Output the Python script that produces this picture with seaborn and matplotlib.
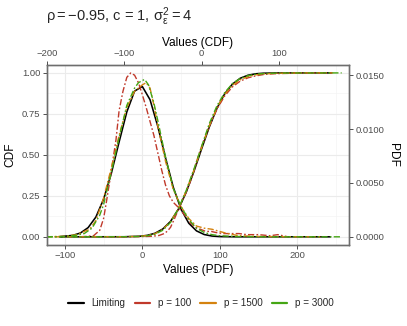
import numpy as np
import pandas as pd
import matplotlib
matplotlib.use("Agg")
import matplotlib.pyplot as plt
import seaborn as sns
from matplotlib.lines import Line2D
from matplotlib.ticker import MultipleLocator, FixedLocator

# ---------------- data ----------------
series_names = ["Limiting", "p = 100", "p = 1500", "p = 3000"]
series_colors = ["#000000", "#C0392B", "#D4820F", "#45A614"]

# PDF curves (x on bottom axis "Values (PDF)", y on right axis "PDF")
pdf_x_limiting = [-106, -90, -80, -70, -60, -50, -40, -30, -20, -10, 0, 10, 20, 30,
                  40, 50, 60, 70, 80, 90, 100, 120, 150, 200, 243]
pdf_y_limiting = [0.00002, 0.00013, 0.00035, 0.00085, 0.00183, 0.00349, 0.00589,
                  0.00879, 0.01159, 0.01352, 0.01395, 0.01272, 0.01025, 0.00731,
                  0.00460, 0.00257, 0.00126, 0.00055, 0.00021, 0.00007, 0.00002,
                  0.0, 0.0, 0.0, 0.0]

pdf_x_p100 = [-80, -70, -63, -55, -50, -46, -42, -38, -34, -30, -25, -20, -15, -10,
              -5, 0, 5, 10, 15, 20, 25, 30, 35, 40, 47, 55, 62, 68, 75, 82, 89, 95,
              105, 115, 125, 135, 150, 165, 175, 188]
pdf_y_p100 = [0.0, 0.00005, 0.0001, 0.0006, 0.0017, 0.0034, 0.0052, 0.0071, 0.0090,
              0.0117, 0.0135, 0.0148, 0.0152, 0.0150, 0.0143, 0.0132, 0.0120, 0.0107,
              0.0094, 0.0078, 0.0062, 0.0048, 0.0038, 0.0032, 0.0027, 0.0020, 0.0013,
              0.0009, 0.0007, 0.0005, 0.0005, 0.0004, 0.0003, 0.0003, 0.0003, 0.0002,
              0.0002, 0.0001, 0.0002, 0.0]

pdf_x_p1500 = [-124, -100, -85, -75, -68, -60, -50, -40, -30, -20, -10, -5, 0, 5, 10,
               15, 20, 30, 40, 50, 60, 70, 80, 90, 100, 110, 125, 150, 200, 230]
pdf_y_p1500 = [0.0, 0.00005, 0.0002, 0.0005, 0.0007, 0.0015, 0.0036, 0.0064, 0.0094,
               0.0120, 0.0135, 0.0138, 0.0141, 0.0143, 0.0138, 0.0122, 0.0103, 0.0070,
               0.0044, 0.0028, 0.0017, 0.0010, 0.0008, 0.0007, 0.0005, 0.0003, 0.0001,
               0.00003, 0.0, 0.0]

pdf_x_p3000 = [-124, -100, -85, -75, -65, -55, -50, -40, -30, -20, -10, -5, 0, 3, 8,
               15, 20, 30, 40, 50, 60, 70, 80, 90, 100, 120, 160, 258]
pdf_y_p3000 = [0.0, 0.00003, 0.00015, 0.0003, 0.0008, 0.0020, 0.0030, 0.0060, 0.0092,
               0.0122, 0.0138, 0.0143, 0.0145, 0.0146, 0.0141, 0.0124, 0.0108, 0.0074,
               0.0045, 0.0028, 0.0016, 0.0008, 0.0004, 0.0002, 0.0001, 0.00003, 0.0, 0.0]

# CDF curves (x on top axis "Values (CDF)", y on left axis "CDF")
cdf_x_limiting = [-183, -100, -80, -70, -60, -50, -40, -30, -20, -10, 0, 10, 20, 30,
                  40, 50, 60, 70, 80, 100, 168]
cdf_y_limiting = [0.0, 0.0003, 0.0033, 0.0089, 0.0218, 0.0478, 0.0941, 0.1673, 0.2696,
                  0.3963, 0.535, 0.6695, 0.785, 0.8729, 0.932, 0.9673, 0.9858, 0.9945,
                  0.9981, 0.9998, 1.0]

cdf_x_p100 = [-120, -80, -65, -55, -48, -44, -40, -35, -30, -25, -20, -15, -10, -5, 0,
              10, 20, 30, 40, 50, 60, 70, 80, 90, 100, 120, 140, 160]
cdf_y_p100 = [0.0, 0.001, 0.003, 0.008, 0.02, 0.035, 0.058, 0.11, 0.165, 0.22, 0.27,
              0.33, 0.40, 0.48, 0.55, 0.675, 0.78, 0.86, 0.915, 0.95, 0.97, 0.982,
              0.99, 0.994, 0.996, 0.998, 0.999, 1.0]

cdf_x_p1500 = [-190, -100, -80, -70, -60, -50, -40, -30, -20, -10, 0, 10, 20, 30, 40,
               50, 60, 70, 80, 100, 130, 170]
cdf_y_p1500 = [0.0, 0.0005, 0.003, 0.008, 0.019, 0.045, 0.092, 0.172, 0.278, 0.405,
               0.542, 0.677, 0.790, 0.870, 0.925, 0.958, 0.977, 0.988, 0.994, 0.998,
               1.0, 1.0]

cdf_x_p3000 = [-200, -100, -80, -70, -60, -50, -40, -30, -20, -10, 0, 10, 20, 30, 40,
               50, 60, 70, 80, 100, 181]
cdf_y_p3000 = [0.0, 0.0003, 0.002, 0.006, 0.016, 0.040, 0.088, 0.170, 0.280, 0.410,
               0.550, 0.690, 0.800, 0.880, 0.935, 0.966, 0.983, 0.992, 0.996, 0.999, 1.0]

pdf_x_ticks = [-100, 0, 100, 200]
cdf_x_ticks = [-200, -100, 0, 100]
cdf_y_ticks = [0.0, 0.25, 0.5, 0.75, 1.0]
pdf_y_ticks = [0.0, 0.005, 0.010, 0.015]

title_text = r"$\rho = -0.95$, c = 1, $\sigma^{2}_{\varepsilon} = 4$"

# ---------------- tables ----------------
pdf_frames = []
for name, xs, ys in zip(series_names,
                        [pdf_x_limiting, pdf_x_p100, pdf_x_p1500, pdf_x_p3000],
                        [pdf_y_limiting, pdf_y_p100, pdf_y_p1500, pdf_y_p3000]):
    pdf_frames.append(pd.DataFrame({"x": xs, "y": ys, "series": name}))
pdf_df = pd.concat(pdf_frames, ignore_index=True)

cdf_frames = []
for name, xs, ys in zip(series_names,
                        [cdf_x_limiting, cdf_x_p100, cdf_x_p1500, cdf_x_p3000],
                        [cdf_y_limiting, cdf_y_p100, cdf_y_p1500, cdf_y_p3000]):
    cdf_frames.append(pd.DataFrame({"x": xs, "y": ys, "series": name}))
cdf_df = pd.concat(cdf_frames, ignore_index=True)

# ---------------- style ----------------
sns.set_theme(style="white")
plt.rcParams["font.family"] = ["Liberation Sans", "DejaVu Sans"]
plt.rcParams["mathtext.fontset"] = "custom"
plt.rcParams["mathtext.rm"] = "Liberation Sans"
plt.rcParams["mathtext.it"] = "Liberation Sans"
plt.rcParams["mathtext.bf"] = "Liberation Sans:bold"

palette = dict(zip(series_names, series_colors))
dashdot = (4.5, 1.6, 1.2, 1.6)
dashes = {"Limiting": "", "p = 100": dashdot, "p = 1500": dashdot, "p = 3000": dashdot}
sizes = {"Limiting": 1.15, "p = 100": 1.0, "p = 1500": 1.0, "p = 3000": 1.0}

fig = plt.figure(figsize=(4.07, 3.26), dpi=100)
L, R, T, B = 46.7 / 407, 349 / 407, 64.7 / 326, 245 / 326
ax = fig.add_axes([L, 1 - B, R - L, B - T])
ax.set_facecolor("white")

ax_r = ax.twinx()   # PDF values
ax_t = ax.twiny()   # CDF x-values

ax.set_xlim(-123.5, 267)
ax.set_ylim(-0.05, 1.05)
ax_t.set_xlim(-200, 190.5)
ax_r.set_ylim(-0.05 * 0.01521, 1.05 * 0.01521)

# grid on base axes
ax.xaxis.set_major_locator(FixedLocator(pdf_x_ticks))
ax.xaxis.set_minor_locator(MultipleLocator(50))
ax.yaxis.set_major_locator(FixedLocator(cdf_y_ticks))
ax.yaxis.set_minor_locator(MultipleLocator(0.125))
ax.grid(True, which="major", color="#EBEBEB", linewidth=0.8)
ax.grid(True, which="minor", color="#F3F3F3", linewidth=0.45)
ax.set_axisbelow(True)
ax_r.grid(False)
ax_t.grid(False)

sns.lineplot(data=pdf_df, x="x", y="y", hue="series", style="series", size="series",
             hue_order=series_names, style_order=series_names, size_order=series_names,
             palette=palette, dashes=dashes, sizes=sizes, estimator=None,
             legend=False, ax=ax_r)
sns.lineplot(data=cdf_df, x="x", y="y", hue="series", style="series", size="series",
             hue_order=series_names, style_order=series_names, size_order=series_names,
             palette=palette, dashes=dashes, sizes=sizes, estimator=None,
             legend=False, ax=ax_t)

ax_t.set_ylim(-0.05, 1.05)
ax_r.set_xlim(-123.5, 267)
ax_t.set_xlim(-200, 190.5)

# ticks
tick_col = "#4D4D4D"
for a in (ax, ax_r, ax_t):
    a.tick_params(axis="both", which="major", length=3, width=0.6, color="#333333",
                  labelsize=6.8, labelcolor=tick_col, pad=1.5, direction="out")
    a.tick_params(axis="both", which="minor", length=0)
    for s in a.spines.values():
        s.set_color("#6E6E6E")
        s.set_linewidth(0.9)

ax.set_xticks(pdf_x_ticks)
ax.set_xticklabels(["\u2212100", "0", "100", "200"])
ax.set_yticks(cdf_y_ticks)
ax.set_yticklabels(["0.00", "0.25", "0.50", "0.75", "1.00"])
ax_t.set_xticks(cdf_x_ticks)
ax_t.set_xticklabels(["\u2212200", "\u2212100", "0", "100"])
ax_t.xaxis.set_minor_locator(FixedLocator([]))
ax_r.set_yticks(pdf_y_ticks)
ax_r.set_yticklabels(["0.0000", "0.0050", "0.0100", "0.0150"])
ax_r.yaxis.set_minor_locator(FixedLocator([]))

ax.set_xlabel("Values (PDF)", fontsize=8.6, color="black", labelpad=2.5)
ax.set_ylabel("CDF", fontsize=8.6, color="black", labelpad=4)
ax_t.set_xlabel("Values (CDF)", fontsize=8.6, color="black", labelpad=2.5)
ax_r.set_ylabel("PDF", fontsize=8.6, color="black", rotation=270, labelpad=11)

fig.text(46 / 407, 1 - 17 / 326, title_text, fontsize=10.5, ha="left", va="center")

handles = [Line2D([0], [0], color=c, lw=1.6) for c in series_colors]
fig.legend(handles, series_names, loc="center", bbox_to_anchor=(0.494, 1 - 303 / 326),
           ncol=4, frameon=False, fontsize=7.1, handlelength=1.6, handletextpad=0.8,
           columnspacing=0.9, borderaxespad=0)

fig.savefig("out.png", dpi=100)
